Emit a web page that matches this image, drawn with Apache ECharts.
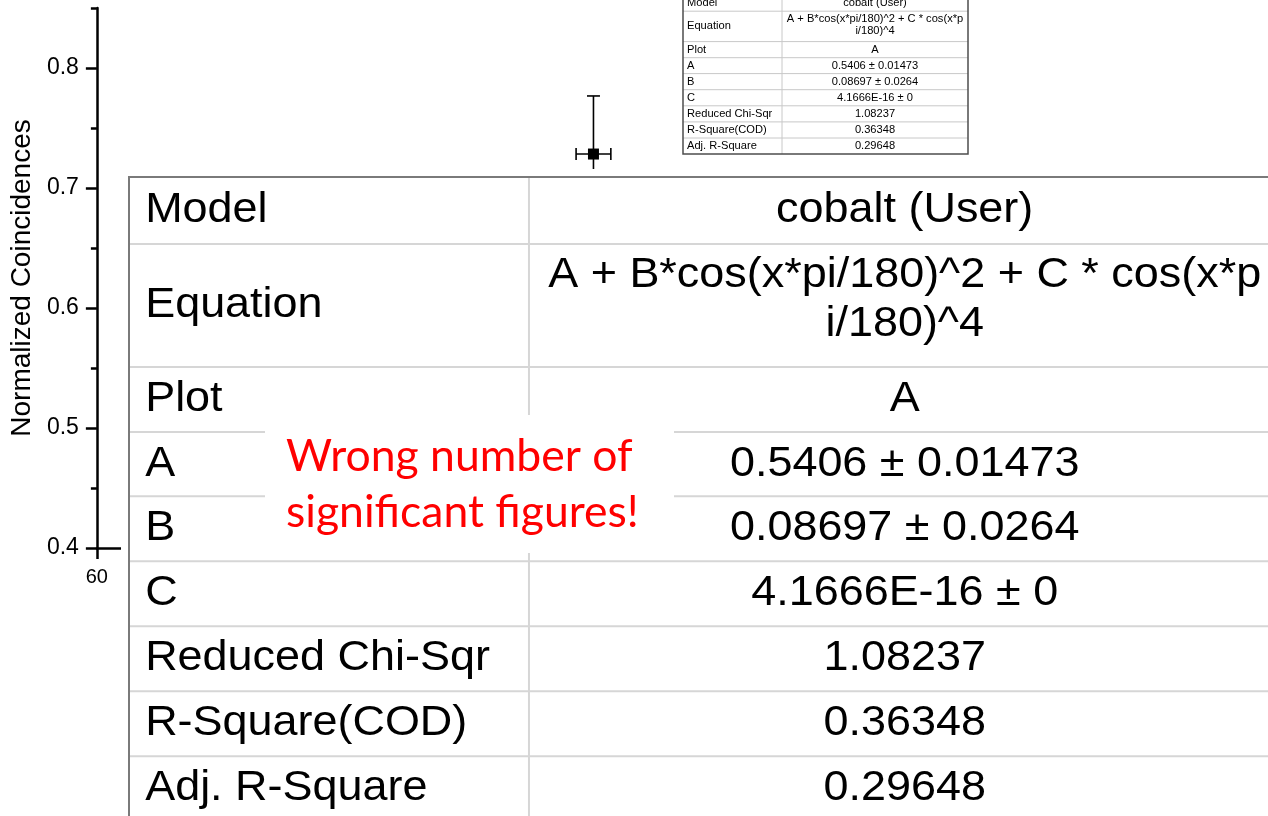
<!DOCTYPE html>
<html>
<head>
<meta charset="utf-8">
<script src="https://cdn.jsdelivr.net/npm/echarts@6/dist/echarts.min.js"></script>
<style>
html,body{margin:0;padding:0;background:#fff;}
#chart{width:1268px;height:816px;}
</style>
</head>
<body>
<div id="chart"></div>
<script>
// ---- data ----
const xValues = [180];
const yValues = [0.7283];
const xErrors = [4.2];
const yErrors = [0.0484];
const yMajorTicks = [0.4, 0.5, 0.6, 0.7, 0.8];
const yMinorTicks = [0.45, 0.55, 0.65, 0.75, 0.85];
const xTickLabels = [60];
const yAxisTitle = 'Normalized Coincidences';
const tableLabels = ['Model', 'Equation', 'Plot', 'A', 'B', 'C', 'Reduced Chi-Sqr', 'R-Square(COD)', 'Adj. R-Square'];
const tableValues = ['cobalt (User)', ['A + B*cos(x*pi/180)^2 + C * cos(x*p', 'i/180)^4'], 'A',
  '0.5406 ± 0.01473', '0.08697 ± 0.0264', '4.1666E-16 ± 0', '1.08237', '0.36348', '0.29648'];
const noteLines = ['Wrong number of', 'significant figures!'];

// ---- layout helpers ----
const rowUnits = [16.6, 30.4, 16.1, 15.9, 16.1, 16.1, 16.1, 16.1, 16.1];
const FONT = "'Liberation Sans', Arial, sans-serif";

function buildTable(x0, y0, s, opt, zBase) {
  const els = [];
  const labelW = 99 * s, totalW = 285 * s;
  let totalH = 0; rowUnits.forEach(u => totalH += u * s);
  els.push({type: 'rect', z: zBase, shape: {x: x0 - opt.pad, y: y0 - opt.pad, width: totalW + 2 * opt.pad, height: totalH + 2 * opt.pad},
    style: {fill: '#fff'}});
  let y = y0;
  const fs = 10.4 * s;
  const sx = 1.07;
  const font = fs + 'px ' + FONT;
  const cx = x0 + labelW + (totalW - labelW) / 2;
  rowUnits.forEach((u, i) => {
    const h = u * s;
    els.push({type: 'text', z: zBase + 2, x: x0 + 4 * s, y: y + h / 2, scaleX: sx,
      style: {text: tableLabels[i], font: font, fill: '#000', align: 'left', verticalAlign: 'middle'}});
    const v = tableValues[i];
    if (Array.isArray(v)) {
      v.forEach((line, k) => {
        els.push({type: 'text', z: zBase + 2, x: cx, y: y + h / 2 - 1.4 * s + (k - 0.5) * 12.1 * s, scaleX: sx,
          style: {text: line, font: font, fill: '#000', align: 'center', verticalAlign: 'middle'}});
      });
    } else {
      els.push({type: 'text', z: zBase + 2, x: cx, y: y + h / 2, scaleX: sx,
        style: {text: v, font: font, fill: '#000', align: 'center', verticalAlign: 'middle'}});
    }
    y += h;
    if (i < rowUnits.length - 1) {
      els.push({type: 'line', z: zBase + 1, shape: {x1: x0, y1: y, x2: x0 + totalW, y2: y},
        style: {stroke: opt.inner, lineWidth: opt.innerW}});
    }
  });
  els.push({type: 'line', z: zBase + 1, shape: {x1: x0 + labelW, y1: y0, x2: x0 + labelW, y2: y0 + totalH},
    style: {stroke: opt.inner, lineWidth: opt.innerW}});
  els.push({type: 'rect', z: zBase + 1, shape: {x: x0, y: y0, width: totalW, height: totalH},
    style: {fill: null, stroke: opt.outer, lineWidth: opt.outerW}});
  return els;
}

const NOTE_FONT = "44.5px Lato, 'Open Sans', sans-serif";
const graphics = [].concat(
  buildTable(683, -5.4, 1, {pad: 0, inner: '#c8c8c8', innerW: 1, outer: '#4d4d4d', outerW: 1.5}, 100),
  buildTable(129, 177, 4.04, {pad: 8, inner: '#d6d6d6', innerW: 2, outer: '#7a7a7a', outerW: 2}, 110),
  [
    {type: 'rect', z: 120, shape: {x: 265, y: 415, width: 409, height: 138}, style: {fill: '#fff'}},
    {type: 'text', z: 121, x: 286, y: 457, style: {text: noteLines[0], font: NOTE_FONT, fill: '#ff0000', align: 'left', verticalAlign: 'middle'}},
    {type: 'text', z: 121, x: 286, y: 513, style: {text: noteLines[1], font: NOTE_FONT, fill: '#ff0000', align: 'left', verticalAlign: 'middle'}}
  ]
);

function renderErr(params, api) {
  const x = api.value(0), y = api.value(1), ex = api.value(2), ey = api.value(3);
  const top = api.coord([x, y + ey]), bot = api.coord([x, y - ey]);
  const l = api.coord([x - ex, y]), r = api.coord([x + ex, y]);
  const st = {stroke: '#000', lineWidth: 1.6};
  const cw = 6.5, ch = 6;
  return {type: 'group', children: [
    {type: 'line', shape: {x1: top[0], y1: top[1], x2: bot[0], y2: bot[1]}, style: st},
    {type: 'line', shape: {x1: top[0] - cw, y1: top[1], x2: top[0] + cw, y2: top[1]}, style: st},
    {type: 'line', shape: {x1: bot[0] - cw, y1: bot[1], x2: bot[0] + cw, y2: bot[1]}, style: st},
    {type: 'line', shape: {x1: l[0], y1: l[1], x2: r[0], y2: r[1]}, style: st},
    {type: 'line', shape: {x1: l[0], y1: l[1] - ch, x2: l[0], y2: l[1] + ch}, style: st},
    {type: 'line', shape: {x1: r[0], y1: r[1] - ch, x2: r[0], y2: r[1] + ch}, style: st}
  ]};
}

const chart = echarts.init(document.getElementById('chart'), null, {renderer: 'canvas'});
chart.setOption({
  animation: false,
  backgroundColor: '#fff',
  grid: {left: 95, right: 0, top: 8, bottom: 268, containLabel: false},
  xAxis: {
    type: 'value', min: 60, max: 343, interval: 60,
    axisLine: {show: true, lineStyle: {color: '#000', width: 2.5}},
    axisTick: {show: true, inside: false, length: 11, lineStyle: {color: '#000', width: 2.5}, customValues: xTickLabels},
    axisLabel: {show: true, margin: 19, fontSize: 20, color: '#000', fontFamily: FONT, customValues: xTickLabels},
    splitLine: {show: false}
  },
  yAxis: [{
    type: 'value', min: 0.4, max: 0.85, interval: 0.1,
    name: yAxisTitle, nameLocation: 'middle', nameGap: 59,
    nameTextStyle: {fontSize: 28, color: '#000', fontFamily: FONT},
    axisLine: {show: true, lineStyle: {color: '#000', width: 2.5}},
    axisTick: {show: true, inside: false, length: 11, lineStyle: {color: '#000', width: 2.5}, customValues: yMajorTicks},
    axisLabel: {show: true, margin: 18, fontSize: 23, color: '#000', fontFamily: FONT, customValues: yMajorTicks,
      formatter: v => v.toFixed(1)},
    splitLine: {show: false}
  }, {
    type: 'value', min: 0.4, max: 0.85, position: 'left', offset: 0,
    axisLine: {show: false},
    axisTick: {show: true, inside: false, length: 6, lineStyle: {color: '#000', width: 2.5}, customValues: yMinorTicks},
    axisLabel: {show: false},
    splitLine: {show: false}
  }],
  series: [{
    type: 'custom', renderItem: renderErr, z: 3,
    data: xValues.map((x, i) => [x, yValues[i], xErrors[i], yErrors[i]])
  }, {
    type: 'scatter', symbol: 'rect', symbolSize: 11, z: 4,
    itemStyle: {color: '#000', opacity: 1},
    data: xValues.map((x, i) => [x, yValues[i]])
  }],
  graphic: {elements: graphics}
});
</script>
</body>
</html>
